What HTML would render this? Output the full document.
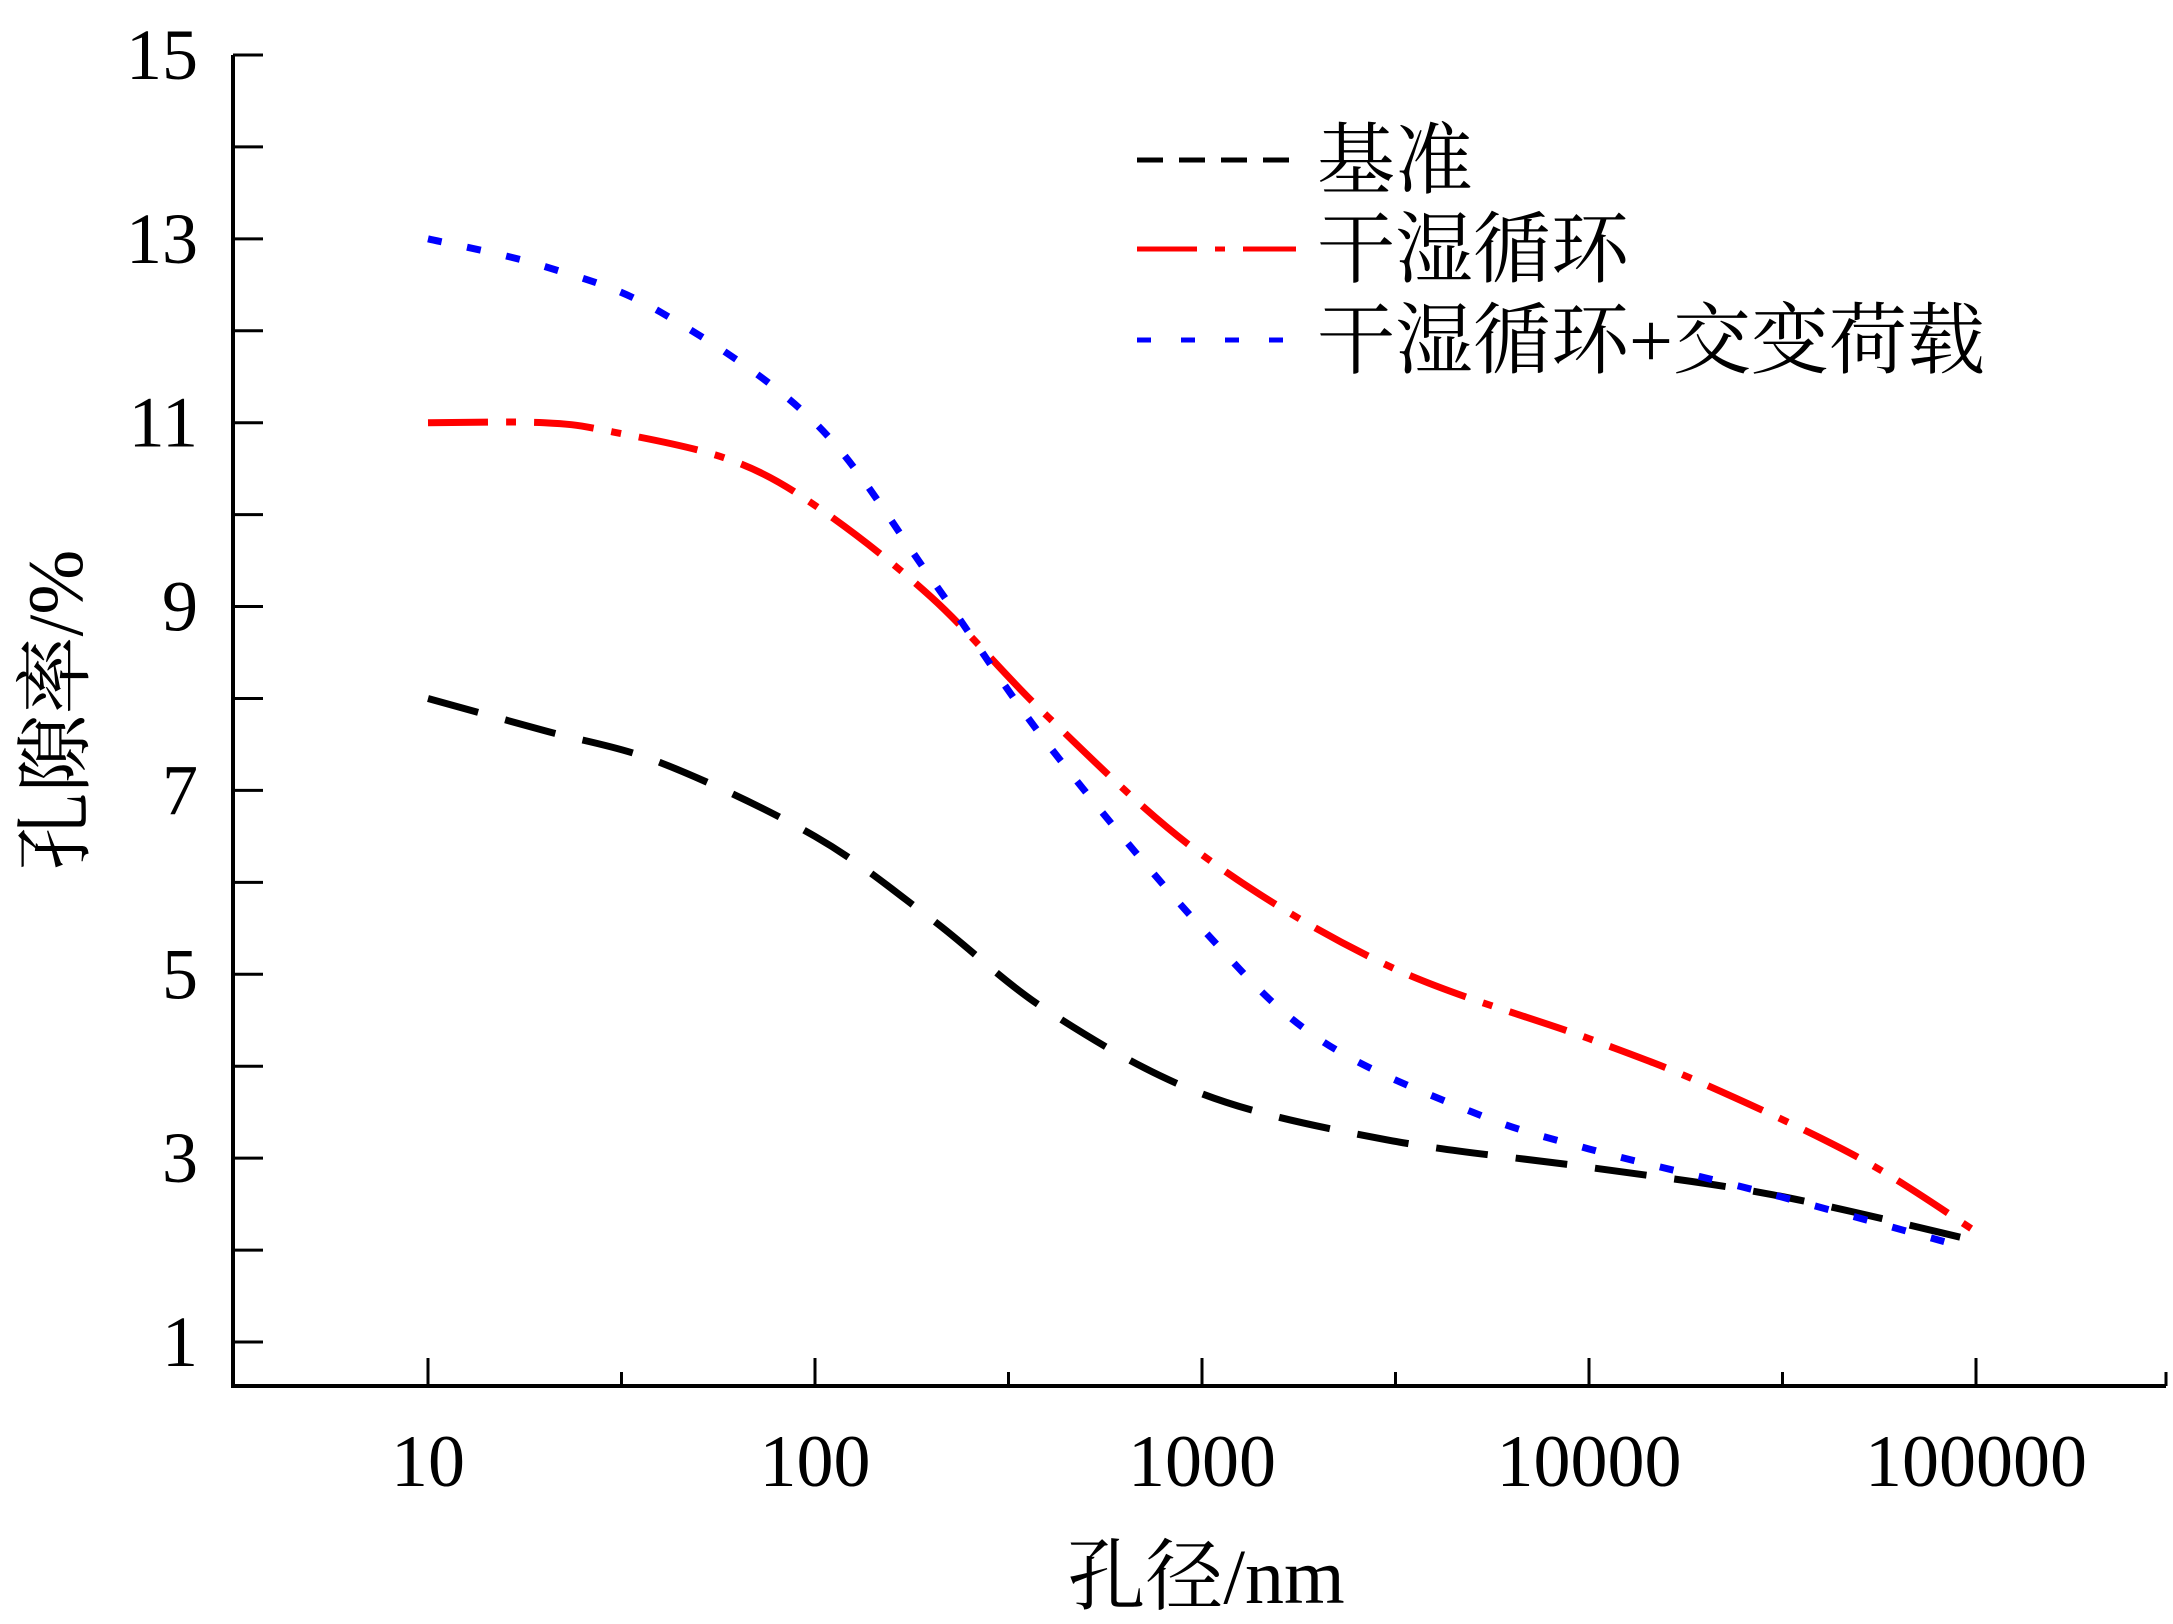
<!DOCTYPE html>
<html><head><meta charset="utf-8"><style>
html,body{margin:0;padding:0;background:#fff;}
svg{display:block;}
text{font-family:"Liberation Serif","Noto Serif CJK SC",serif;fill:#000;}
</style></head><body>
<svg id="chart" width="2173" height="1624" xmlns="http://www.w3.org/2000/svg"></svg>
<script>
const xTicks=[10,100,1000,10000,100000];
const xTickLabels=["10","100","1000","10000","100000"];
const yTicks=[1,3,5,7,9,11,13,15];
const blackX=[10,20,40,100,200,400,1000,3000,10000,30000,100000];
const blackY=[8.0,7.65,7.3,6.5,5.6,4.6,3.7,3.2,2.9,2.6,2.1];
const redX=[10,20,30,60,100,200,400,1000,3000,10000,20000,50000,100000];
const redY=[11,11,10.9,10.6,10.1,9.1,7.8,6.3,5.1,4.3,3.8,3.0,2.2];
const blueX=[10,20,40,100,200,400,1000,2000,5000,10000,30000,90000];
const blueY=[13,12.7,12.2,11.0,9.3,7.5,5.5,4.3,3.5,3.1,2.6,2.05];
const NS="http://www.w3.org/2000/svg";
const svg=document.getElementById('chart');
const X0=233,Y0=1386,XEND=2166;
function sx(v){return 428+387*Math.log10(v/10);}
function sy(v){return 1342-(v-1)*91.93;}
function el(t,a,p){const e=document.createElementNS(NS,t);for(const k in a)e.setAttribute(k,a[k]);(p||svg).appendChild(e);return e;}
let e;
e=el('line',{x1:X0,y1:55,x2:X0,y2:Y0+2,stroke:'#000','stroke-width':4});


e=el('line',{x1:X0-2,y1:Y0,x2:XEND,y2:Y0,stroke:'#000','stroke-width':4});


e=el('line',{x1:XEND,y1:Y0,x2:XEND,y2:Y0-14,stroke:'#000','stroke-width':3});


for(let v=2;v<=14;v+=2){
 e=el('line',{x1:X0,y1:sy(v),x2:X0+30,y2:sy(v),stroke:'#000','stroke-width':3});
 
 
}
yTicks.forEach(v=>{
 e=el('line',{x1:X0,y1:sy(v),x2:X0+30,y2:sy(v),stroke:'#000','stroke-width':3});
 
 
 e=el('text',{x:198,y:sy(v)+24,'font-size':72,'text-anchor':'end'});e.textContent=v;
 
 
});
xTicks.forEach((v,i)=>{
 e=el('line',{x1:sx(v),y1:Y0,x2:sx(v),y2:Y0-28,stroke:'#000','stroke-width':3});
 
 
 e=el('text',{x:sx(v),y:1486,'font-size':74,'text-anchor':'middle'});e.textContent=xTickLabels[i];
 
 
 if(i<xTicks.length-1){
  e=el('line',{x1:sx(v*3.162),y1:Y0,x2:sx(v*3.162),y2:Y0-14,stroke:'#000','stroke-width':3});
  
  
 }
});
e=el('text',{x:1206,y:1603,'font-size':78,'text-anchor':'middle'});e.textContent='孔径/nm';


e=el('text',{x:0,y:0,'font-size':78,'text-anchor':'middle',transform:'translate(82,710) rotate(-90)'});e.textContent='孔隙率/%';


function path(xs,ys){
 const p=xs.map((x,i)=>[sx(x),sy(ys[i])]);
 let d='M'+p[0][0]+','+p[0][1];
 for(let i=0;i<p.length-1;i++){
  const p0=p[Math.max(0,i-1)],p1=p[i],p2=p[i+1],p3=p[Math.min(p.length-1,i+2)];
  d+=' C'+(p1[0]+(p2[0]-p0[0])/6)+','+(p1[1]+(p2[1]-p0[1])/6)+' '+(p2[0]-(p3[0]-p1[0])/6)+','+(p2[1]-(p3[1]-p1[1])/6)+' '+p2[0]+','+p2[1];
 }
 return d;
}
e=el('path',{d:path(blackX,blackY),fill:'none',stroke:'#000','stroke-width':7,'stroke-dasharray':'52,28'});


e=el('path',{d:path(redX,redY),fill:'none',stroke:'#f00','stroke-width':7,'stroke-dasharray':'60,18,10,18'});


e=el('path',{d:path(blueX,blueY),fill:'none',stroke:'#00f','stroke-width':7,'stroke-dasharray':'14,26'});


const leg=[['基准','#000','26,16'],['干湿循环','#f00','60,18,10,18'],['干湿循环+交变荷载','#00f','14,30']];
const legY=[160,249,340];
leg.forEach((l,i)=>{
 const g=el('g',{});
 
 
 el('line',{x1:1137,y1:legY[i],x2:1296,y2:legY[i],stroke:l[1],'stroke-width':5,'stroke-dasharray':l[2]},g);
 const t=el('text',{x:1317,y:legY[i]+27,'font-size':78},g);t.textContent=l[0];
});
</script>
</body></html>
